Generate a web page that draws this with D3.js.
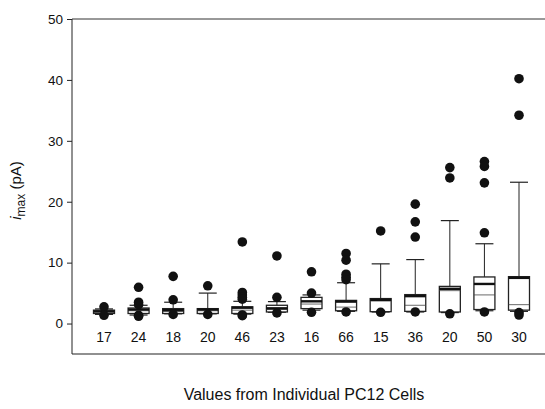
<!DOCTYPE html>
<html>
<head>
<meta charset="utf-8">
<script src="https://cdn.jsdelivr.net/npm/d3@7"></script>
<style>
  body { margin: 0; background: #fff; }
  svg { display: block; font-family: "Liberation Sans", Arial, sans-serif; }
</style>
</head>
<body>
<div id="chart"></div>
<script>
// Cell counts shown under each box
const cellCounts = ["17", "24", "18", "20", "46", "23", "16", "66", "15", "36", "20", "50", "30"];

// Box statistics per cell (pA)
const whiskerLow  = [1.5, 1.4, 1.6, 1.6, 1.55, 1.85, 2.2, 2.0, 1.9, 1.9, 1.8, 2.1, 2.0];
const quart1      = [1.65, 1.65, 1.65, 1.65, 1.65, 1.9, 2.45, 2.1, 1.95, 2.0, 1.9, 2.3, 2.2];
const medians     = [1.9, 2.1, 2.0, 2.1, 2.2, 2.3, 3.2, 2.7, 3.7, 3.0, 5.4, 4.7, 3.1];
const means       = [2.0, 2.3, 2.2, 2.3, 2.6, 2.5, 3.65, 3.6, 3.9, 4.5, 5.7, 6.5, 7.5];
const quart3      = [2.2, 2.55, 2.45, 2.45, 2.75, 3.0, 4.3, 3.8, 4.1, 4.75, 6.1, 7.65, 7.7];
const whiskerHigh = [2.4, 3.0, 3.5, 5.0, 3.65, 3.6, 4.7, 6.7, 9.8, 10.5, 16.9, 13.1, 23.2];

// Outlying points per cell
const outliers = [
  [2.75, 1.35],
  [5.95, 3.5, 3.1, 1.35, 1.2],
  [7.75, 3.9, 1.5],
  [6.2, 1.5],
  [13.4, 5.1, 4.7, 4.3, 4.0, 1.4, 1.3],
  [11.1, 4.3, 1.75],
  [8.5, 5.0, 1.85],
  [11.5, 10.4, 8.1, 7.6, 7.2, 1.9],
  [15.2, 1.85],
  [19.6, 16.7, 14.2, 1.9],
  [25.6, 23.9, 1.6],
  [26.6, 25.8, 23.1, 14.9, 1.9],
  [40.2, 34.2, 1.8, 1.4]
];

const yTicks = [0, 10, 20, 30, 40, 50];

const width = 545, height = 409;
const plotLeft = 72, plotRight = 545, plotTop = 19, plotBottom = 354;

const svg = d3.select("#chart").append("svg")
    .attr("width", width)
    .attr("height", height);

const x = d3.scalePoint()
    .domain(d3.range(cellCounts.length))
    .range([104, 519]);

const y = d3.scaleLinear()
    .domain([-5, 50])
    .range([plotBottom, plotTop]);

// Frame lines (top and bottom, no right side)
svg.append("line")
    .attr("x1", plotLeft).attr("x2", plotRight)
    .attr("y1", plotTop).attr("y2", plotTop)
    .attr("stroke", "#333").attr("stroke-width", 1);
svg.append("line")
    .attr("x1", plotLeft).attr("x2", plotRight)
    .attr("y1", plotBottom).attr("y2", plotBottom)
    .attr("stroke", "#222").attr("stroke-width", 1.2);

// Y axis
const yAxis = svg.append("g")
    .attr("transform", `translate(${plotLeft},0)`)
    .call(d3.axisLeft(y).tickValues(yTicks).tickSize(5).tickSizeOuter(0).tickPadding(4));
yAxis.select(".domain").attr("stroke", "#222").attr("d", `M0,${plotTop}V${plotBottom}`);
yAxis.selectAll(".tick line").attr("stroke", "#222");
yAxis.selectAll(".tick text")
    .attr("font-size", 13.5)
    .attr("font-family", "Liberation Sans, Arial, sans-serif")
    .attr("fill", "#111");

// Y axis title
const yTitle = svg.append("text")
    .attr("transform", `translate(21,${(plotTop + plotBottom) / 2 + 4}) rotate(-90)`)
    .attr("text-anchor", "middle")
    .attr("font-size", 15)
    .attr("fill", "#111");
yTitle.append("tspan").attr("font-style", "italic").text("i");
yTitle.append("tspan").attr("font-size", 12).attr("dy", 4).text("max");
yTitle.append("tspan").attr("dy", -4).text(" (pA)");

// X title
svg.append("text")
    .attr("x", 304).attr("y", 400)
    .attr("text-anchor", "middle")
    .attr("font-size", 16)
    .attr("fill", "#111")
    .text("Values from Individual PC12 Cells");

// Cell count labels
svg.append("g").selectAll("text")
    .data(cellCounts)
    .join("text")
    .attr("x", (d, i) => x(i))
    .attr("y", 342)
    .attr("text-anchor", "middle")
    .attr("font-size", 14)
    .attr("fill", "#111")
    .text(d => d);

const boxW = 21, capW = 18;

const groups = svg.append("g").selectAll("g")
    .data(cellCounts.map((c, i) => i))
    .join("g")
    .attr("transform", i => `translate(${x(i)},0)`);

groups.each(function(i) {
    const g = d3.select(this);
    // whiskers
    g.append("line")
        .attr("x1", 0).attr("x2", 0)
        .attr("y1", y(quart3[i])).attr("y2", y(whiskerHigh[i]))
        .attr("stroke", "#222").attr("stroke-width", 1);
    g.append("line")
        .attr("x1", 0).attr("x2", 0)
        .attr("y1", y(quart1[i])).attr("y2", y(whiskerLow[i]))
        .attr("stroke", "#222").attr("stroke-width", 1);
    [whiskerHigh[i], whiskerLow[i]].forEach(v => {
        g.append("line")
            .attr("x1", -capW / 2).attr("x2", capW / 2)
            .attr("y1", y(v)).attr("y2", y(v))
            .attr("stroke", "#222").attr("stroke-width", 1.2);
    });
    // box
    g.append("rect")
        .attr("x", -boxW / 2)
        .attr("y", y(quart3[i]))
        .attr("width", boxW)
        .attr("height", y(quart1[i]) - y(quart3[i]))
        .attr("fill", "#fff")
        .attr("stroke", "#222").attr("stroke-width", 1.3);
    // median (thin) and mean (thick)
    g.append("line")
        .attr("x1", -boxW / 2).attr("x2", boxW / 2)
        .attr("y1", y(medians[i])).attr("y2", y(medians[i]))
        .attr("stroke", "#444").attr("stroke-width", 0.8);
    g.append("line")
        .attr("x1", -boxW / 2).attr("x2", boxW / 2)
        .attr("y1", y(means[i])).attr("y2", y(means[i]))
        .attr("stroke", "#111").attr("stroke-width", 2.4);
    // outliers
    g.selectAll("circle")
        .data(outliers[i])
        .join("circle")
        .attr("cx", 0)
        .attr("cy", d => y(d))
        .attr("r", 4.8)
        .attr("fill", "#111");
});
</script>
</body>
</html>
